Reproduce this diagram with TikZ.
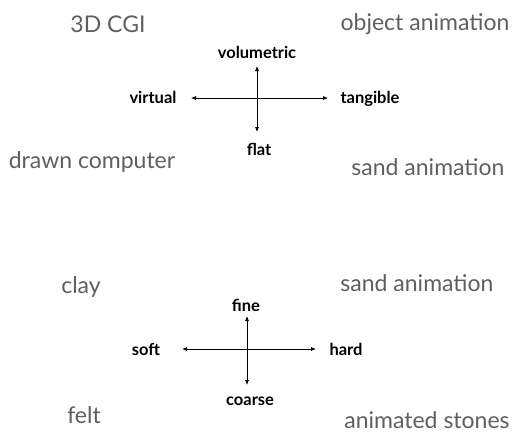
\documentclass[tikz,border=0pt]{standalone}
\usepackage{fontspec}
\setmainfont{Lato}
\usepackage{tikz}
\usetikzlibrary{arrows.meta}
\definecolor{labelgray}{RGB}{95,95,95}
\tikzset{
  corner/.style={text=labelgray, font=\fontsize{23}{27}\selectfont, inner sep=0pt},
  pole/.style={font=\fontsize{16.5}{19}\selectfont\bfseries, inner sep=0pt},
  axis/.style={{Latex[length=5pt,width=4pt]}-{Latex[length=5pt,width=4pt]}, line width=0.7pt}
}

\begin{document}
\begin{tikzpicture}[x=1pt, y=-1pt]
  \useasboundingbox (0,0) rectangle (515,432);

  % Upper map: technique
  \node[corner] (cgi)     at (108,24)  {3D CGI};
  \node[corner] (object)  at (425,24)  {object animation};
  \node[corner] (drawn)   at (92,162)  {drawn computer};
  \node[corner] (sandA)   at (428,167) {sand animation};

  \node[pole] (volumetric) at (257,52)  {volumetric};
  \node[pole] (flat)       at (259,149) {flat};
  \node[pole] (virtual)    at (153,97)  {virtual};
  \node[pole] (tangible)   at (370,99)  {tangible};

  \coordinate (upN) at (257,66);
  \coordinate (upS) at (257,132);
  \coordinate (upW) at (191,98);
  \coordinate (upE) at (328,98);

  \draw[axis] (upN) -- (upS);
  \draw[axis] (upW) -- (upE);

  % Lower map: material
  \node[corner] (clay)    at (81,287)  {clay};
  \node[corner] (sandB)   at (417,283) {sand animation};
  \node[corner] (felt)    at (84,415)  {felt};
  \node[corner] (stones)  at (427,420) {animated stones};

  \node[pole] (fine)   at (246,305) {fine};
  \node[pole] (coarse) at (250,401) {coarse};
  \node[pole] (soft)   at (146,349) {soft};
  \node[pole] (hard)   at (346,349) {hard};

  \coordinate (loN) at (247,316);
  \coordinate (loS) at (247,385);
  \coordinate (loW) at (182,349);
  \coordinate (loE) at (316,349);

  \draw[axis] (loN) -- (loS);
  \draw[axis] (loW) -- (loE);

\end{tikzpicture}
\end{document}
